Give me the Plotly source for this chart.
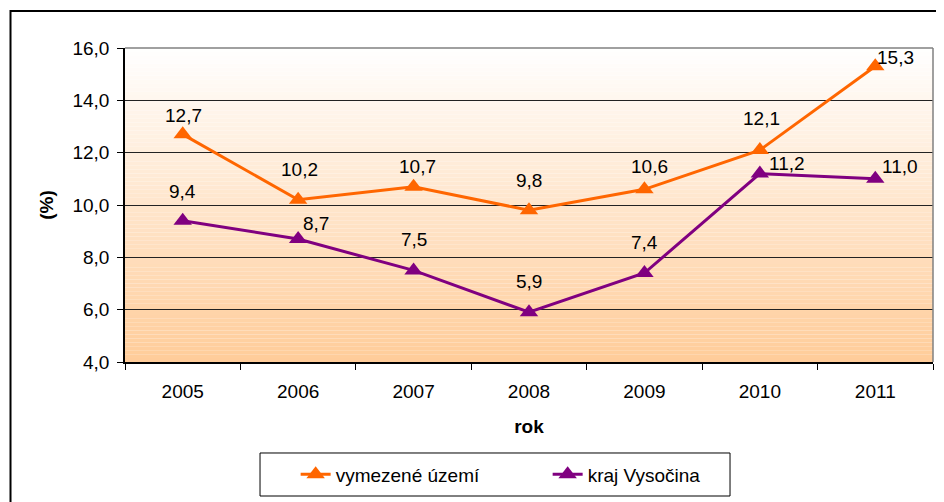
import plotly.graph_objects as go

years = ["2005", "2006", "2007", "2008", "2009", "2010", "2011"]
vymezene = [12.7, 10.2, 10.7, 9.8, 10.6, 12.1, 15.3]
vysocina = [9.4, 8.7, 7.5, 5.9, 7.4, 11.2, 11.0]
series_names = ["vymezené území", "kraj Vysočina"]
y_ticks = [4, 6, 8, 10, 12, 14, 16]

# label offsets (px) - styling only
off_v = [(1, 19), (1, 30), (4, 20), (0, 30), (5, 23), (2, 32), (20, 9)]
off_k = [(0, 29), (18, 16), (0, 31), (0, 31), (0, 31), (27, 10), (25, 12)]

ORANGE = "#FF6600"
PURPLE = "#800080"
FONT = "Liberation Sans, Arial, sans-serif"
FS = 19

xi = list(range(len(years)))


def fmt(v):
    return f"{v:.1f}".replace(".", ",")


fig = go.Figure()
fig.add_trace(go.Scatter(x=xi, y=vymezene, name=series_names[0], mode="lines+markers",
                         line=dict(color=ORANGE, width=3),
                         marker=dict(symbol="triangle-up", size=16, color=ORANGE)))
fig.add_trace(go.Scatter(x=xi, y=vysocina, name=series_names[1], mode="lines+markers",
                         line=dict(color=PURPLE, width=3),
                         marker=dict(symbol="triangle-up", size=16, color=PURPLE)))

anns = []
for vals, offs in ((vymezene, off_v), (vysocina, off_k)):
    for x, v, (dx, dy) in zip(xi, vals, offs):
        anns.append(dict(x=x, y=v, xref="x", yref="y", text=fmt(v), showarrow=False,
                         xshift=dx, yshift=dy, font=dict(family=FONT, size=FS, color="black")))

shapes = []
# gradient background
N = 80
for i in range(N):
    t = (i + 0.5) / N  # 0 bottom, 1 top
    g = round(204 + (255 - 204) * t)
    b = round(153 + (255 - 153) * t)
    shapes.append(dict(type="rect", xref="paper", yref="paper", x0=0, x1=1,
                       y0=i / N, y1=(i + 1) / N, line=dict(width=0),
                       fillcolor=f"rgb(255,{g},{b})", layer="below"))
# plot border top / right (gray)
shapes.append(dict(type="line", xref="paper", yref="paper", x0=0, x1=1, y0=1, y1=1,
                   line=dict(color="#808080", width=1.5), layer="above"))
shapes.append(dict(type="line", xref="paper", yref="paper", x0=1, x1=1, y0=0, y1=1,
                   line=dict(color="#808080", width=1.5), layer="above"))
# outer chart frame
shapes.append(dict(type="rect", xref="paper", yref="paper", x0=-0.1417, x1=1.05,
                   y0=-0.55, y1=1.1178, line=dict(color="black", width=2), layer="below"))
# legend box
shapes.append(dict(type="rect", xref="paper", yref="paper", x0=0.1671, x1=0.7488,
                   y0=-0.4268, y1=-0.2898, line=dict(color="black", width=1),
                   fillcolor="white", layer="below"))

fig.update_layout(
    width=944, height=502,
    margin=dict(l=117, r=19, t=40, b=148),
    paper_bgcolor="white", plot_bgcolor="rgba(0,0,0,0)",
    font=dict(family=FONT, size=FS, color="black"),
    showlegend=True,
    legend=dict(orientation="h", x=0.2112, y=-0.3583, xanchor="left", yanchor="middle",
                bgcolor="rgba(0,0,0,0)", borderwidth=0, entrywidth=207,
                font=dict(family=FONT, size=FS)),
    annotations=anns, shapes=shapes,
)
fig.update_xaxes(range=[-0.5, len(years) - 0.5], tickvals=xi, ticktext=years,
                 ticks="", tickangle=0, showline=True, linecolor="black", linewidth=1.5,
                 showgrid=False, zeroline=False, ticklabelstandoff=11,
                 minor=dict(tick0=-0.5, dtick=1, ticks="outside", ticklen=6,
                            tickcolor="black", showgrid=False),
                 title=dict(text="<b>rok</b>", standoff=19, font=dict(size=FS)))
fig.update_yaxes(range=[4, 16], tickvals=y_ticks, ticktext=[fmt(v) for v in y_ticks],
                 ticks="outside", ticklen=6, tickcolor="black", showline=True,
                 linecolor="black", linewidth=1.5, showgrid=True, gridcolor="#222222",
                 gridwidth=1, zeroline=False, ticklabelstandoff=4,
                 title=dict(text="<b>(%)</b>", standoff=14, font=dict(size=FS)))

fig.write_html("out.html")
